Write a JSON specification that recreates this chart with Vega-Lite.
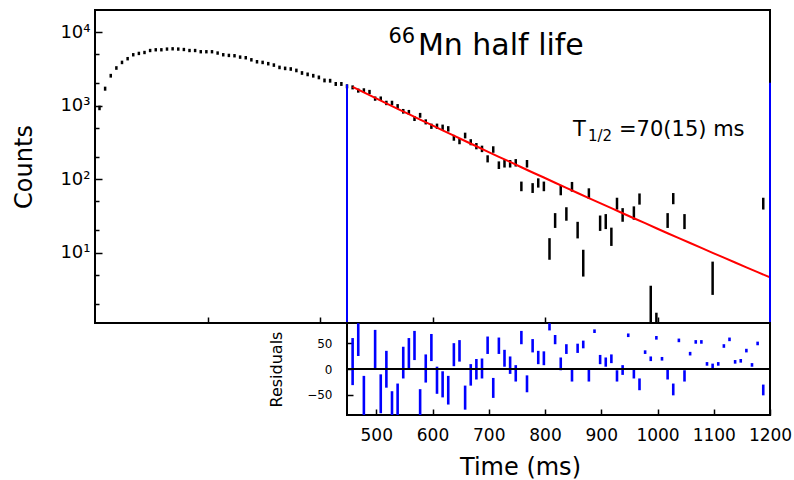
{
  "$schema": "https://vega.github.io/schema/vega-lite/v6.json",
  "padding": {"left": 11, "top": 9, "right": 0, "bottom": 12},
  "spacing": 0,
  "bounds": "flush",
  "config": {
    "font": "DejaVu Sans",
    "view": {"stroke": "black", "strokeWidth": 2},
    "axis": {"domain": false, "grid": false, "tickColor": "black", "labelColor": "black", "titleColor": "black", "titleFontWeight": "normal", "tickWidth": 1.5, "labelFont": "DejaVu Sans", "titleFont": "DejaVu Sans", "labelFlush": false}
  },
  "datasets": {
    "counts": [
      {"t": 8, "n": 930, "lo": 899.5, "hi": 960.5},
      {"t": 18, "n": 1700, "lo": 1658.8, "hi": 1741.2},
      {"t": 28, "n": 2550, "lo": 2499.5, "hi": 2600.5},
      {"t": 38, "n": 3250, "lo": 3193, "hi": 3307},
      {"t": 48, "n": 3870, "lo": 3807.8, "hi": 3932.2},
      {"t": 58, "n": 4350, "lo": 4284, "hi": 4416},
      {"t": 68, "n": 4920, "lo": 4849.9, "hi": 4990.1},
      {"t": 78, "n": 5130, "lo": 5058.4, "hi": 5201.6},
      {"t": 88, "n": 5280, "lo": 5207.3, "hi": 5352.7},
      {"t": 98, "n": 5620, "lo": 5545, "hi": 5695},
      {"t": 108, "n": 5750, "lo": 5674.2, "hi": 5825.8},
      {"t": 118, "n": 5750, "lo": 5674.2, "hi": 5825.8},
      {"t": 128, "n": 5880, "lo": 5803.3, "hi": 5956.7},
      {"t": 138, "n": 5930, "lo": 5853, "hi": 6007},
      {"t": 148, "n": 5880, "lo": 5803.3, "hi": 5956.7},
      {"t": 158, "n": 5800, "lo": 5723.8, "hi": 5876.2},
      {"t": 168, "n": 5620, "lo": 5545, "hi": 5695},
      {"t": 178, "n": 5620, "lo": 5545, "hi": 5695},
      {"t": 188, "n": 5410, "lo": 5336.4, "hi": 5483.6},
      {"t": 198, "n": 5410, "lo": 5336.4, "hi": 5483.6},
      {"t": 208, "n": 5410, "lo": 5336.4, "hi": 5483.6},
      {"t": 218, "n": 5190, "lo": 5118, "hi": 5262},
      {"t": 228, "n": 4920, "lo": 4849.9, "hi": 4990.1},
      {"t": 238, "n": 4820, "lo": 4750.6, "hi": 4889.4},
      {"t": 248, "n": 4770, "lo": 4700.9, "hi": 4839.1},
      {"t": 258, "n": 4570, "lo": 4502.4, "hi": 4637.6},
      {"t": 268, "n": 4480, "lo": 4413.1, "hi": 4546.9},
      {"t": 278, "n": 4200, "lo": 4135.2, "hi": 4264.8},
      {"t": 288, "n": 3950, "lo": 3887.2, "hi": 4012.8},
      {"t": 298, "n": 3870, "lo": 3807.8, "hi": 3932.2},
      {"t": 308, "n": 3720, "lo": 3659, "hi": 3781},
      {"t": 318, "n": 3560, "lo": 3500.3, "hi": 3619.7},
      {"t": 328, "n": 3310, "lo": 3252.5, "hi": 3367.5},
      {"t": 338, "n": 3210, "lo": 3153.3, "hi": 3266.7},
      {"t": 348, "n": 3150, "lo": 3093.9, "hi": 3206.1},
      {"t": 358, "n": 3010, "lo": 2955.1, "hi": 3064.9},
      {"t": 368, "n": 2780, "lo": 2727.3, "hi": 2832.7},
      {"t": 378, "n": 2660, "lo": 2608.4, "hi": 2711.6},
      {"t": 388, "n": 2550, "lo": 2499.5, "hi": 2600.5},
      {"t": 398, "n": 2420, "lo": 2370.8, "hi": 2469.2},
      {"t": 408, "n": 2200, "lo": 2153.1, "hi": 2246.9},
      {"t": 418, "n": 2180, "lo": 2133.3, "hi": 2226.7},
      {"t": 428, "n": 1970, "lo": 1925.6, "hi": 2014.4},
      {"t": 438, "n": 1970, "lo": 1925.6, "hi": 2014.4},
      {"t": 448, "n": 1830, "lo": 1787.2, "hi": 1872.8},
      {"t": 458, "n": 1770, "lo": 1727.9, "hi": 1812.1},
      {"t": 468, "n": 1600, "lo": 1560, "hi": 1640},
      {"t": 478, "n": 1615, "lo": 1574.8, "hi": 1655.2},
      {"t": 488, "n": 1535, "lo": 1495.8, "hi": 1574.2},
      {"t": 498, "n": 1245, "lo": 1209.7, "hi": 1280.3},
      {"t": 508, "n": 1245, "lo": 1209.7, "hi": 1280.3},
      {"t": 518, "n": 1087, "lo": 1054, "hi": 1120},
      {"t": 528, "n": 1087, "lo": 1054, "hi": 1120},
      {"t": 538, "n": 977, "lo": 945.7, "hi": 1008.3},
      {"t": 548, "n": 837, "lo": 808.1, "hi": 865.9},
      {"t": 558, "n": 811, "lo": 782.5, "hi": 839.5},
      {"t": 568, "n": 667, "lo": 641.2, "hi": 692.8},
      {"t": 578, "n": 738, "lo": 710.8, "hi": 765.2},
      {"t": 588, "n": 601, "lo": 576.5, "hi": 625.5},
      {"t": 598, "n": 524, "lo": 501.1, "hi": 546.9},
      {"t": 608, "n": 524, "lo": 501.1, "hi": 546.9},
      {"t": 618, "n": 508, "lo": 485.5, "hi": 530.5},
      {"t": 628, "n": 483, "lo": 461, "hi": 505},
      {"t": 638, "n": 365, "lo": 345.9, "hi": 384.1},
      {"t": 648, "n": 328, "lo": 309.9, "hi": 346.1},
      {"t": 658, "n": 392, "lo": 372.2, "hi": 411.8},
      {"t": 668, "n": 318, "lo": 300.2, "hi": 335.8},
      {"t": 678, "n": 281, "lo": 264.2, "hi": 297.8},
      {"t": 688, "n": 258, "lo": 241.9, "hi": 274.1},
      {"t": 698, "n": 189, "lo": 175.3, "hi": 202.7},
      {"t": 708, "n": 253, "lo": 237.1, "hi": 268.9},
      {"t": 718, "n": 155, "lo": 142.6, "hi": 167.4},
      {"t": 728, "n": 162, "lo": 149.3, "hi": 174.7},
      {"t": 738, "n": 162, "lo": 149.3, "hi": 174.7},
      {"t": 748, "n": 167, "lo": 154.1, "hi": 179.9},
      {"t": 758, "n": 80, "lo": 71.1, "hi": 88.9},
      {"t": 768, "n": 162, "lo": 149.3, "hi": 174.7},
      {"t": 778, "n": 76, "lo": 67.3, "hi": 84.7},
      {"t": 788, "n": 89, "lo": 79.6, "hi": 98.4},
      {"t": 798, "n": 80, "lo": 71.1, "hi": 88.9},
      {"t": 808, "n": 11.7, "lo": 8.3, "hi": 15.1},
      {"t": 818, "n": 27.8, "lo": 22.5, "hi": 33.1},
      {"t": 828, "n": 71, "lo": 62.6, "hi": 79.4},
      {"t": 838, "n": 34, "lo": 28.2, "hi": 39.8},
      {"t": 848, "n": 79, "lo": 70.1, "hi": 87.9},
      {"t": 858, "n": 20.7, "lo": 16.2, "hi": 25.2},
      {"t": 868, "n": 7.7, "lo": 4.9, "hi": 10.5},
      {"t": 878, "n": 64, "lo": 56, "hi": 72},
      {"t": 898, "n": 25.6, "lo": 20.5, "hi": 30.7},
      {"t": 908, "n": 26.9, "lo": 21.7, "hi": 32.1},
      {"t": 918, "n": 16.9, "lo": 12.8, "hi": 21},
      {"t": 928, "n": 46.8, "lo": 40, "hi": 53.6},
      {"t": 938, "n": 33, "lo": 27.3, "hi": 38.7},
      {"t": 958, "n": 35, "lo": 29.1, "hi": 40.9},
      {"t": 968, "n": 54, "lo": 46.7, "hi": 61.3},
      {"t": 988, "n": 2, "lo": 0.6, "hi": 3.4},
      {"t": 998, "n": 1, "lo": 0.5, "hi": 1.46},
      {"t": 1018, "n": 27.8, "lo": 22.5, "hi": 33.1},
      {"t": 1028, "n": 54.7, "lo": 47.3, "hi": 62.1},
      {"t": 1048, "n": 26.9, "lo": 21.7, "hi": 32.1},
      {"t": 1098, "n": 5, "lo": 2.76, "hi": 7.24},
      {"t": 1188, "n": 46.8, "lo": 40, "hi": 53.6}
    ],
    "fit": [
      {"t": 458, "v": 1793}, {"t": 478, "v": 1510}, {"t": 498, "v": 1272}, {"t": 518, "v": 1073},
      {"t": 538, "v": 905}, {"t": 558, "v": 764}, {"t": 578, "v": 645}, {"t": 598, "v": 545},
      {"t": 618, "v": 461}, {"t": 638, "v": 390}, {"t": 658, "v": 330}, {"t": 678, "v": 280},
      {"t": 698, "v": 237}, {"t": 718, "v": 201}, {"t": 738, "v": 171}, {"t": 758, "v": 145},
      {"t": 778, "v": 123}, {"t": 798, "v": 105}, {"t": 818, "v": 89.2}, {"t": 838, "v": 76.0},
      {"t": 858, "v": 64.7}, {"t": 878, "v": 55.2}, {"t": 898, "v": 47.0}, {"t": 918, "v": 40.2},
      {"t": 938, "v": 34.3}, {"t": 958, "v": 29.3}, {"t": 978, "v": 25.1}, {"t": 998, "v": 21.4},
      {"t": 1018, "v": 18.3}, {"t": 1038, "v": 15.7}, {"t": 1058, "v": 13.5}, {"t": 1078, "v": 11.6},
      {"t": 1098, "v": 9.92}, {"t": 1118, "v": 8.52}, {"t": 1138, "v": 7.32}, {"t": 1158, "v": 6.29},
      {"t": 1178, "v": 5.41}, {"t": 1200, "v": 4.59}
    ],
    "limits": [
      {"t": 448, "top": 1930},
      {"t": 1200, "top": 2050}
    ],
    "resid": [
      {"t": 458, "hi": 58, "lo": -29}, {"t": 468, "hi": 87, "lo": 28}, {"t": 478, "hi": -16, "lo": -95},
      {"t": 498, "hi": 74, "lo": 2}, {"t": 508, "hi": -13, "lo": -84}, {"t": 518, "hi": 33, "lo": -34},
      {"t": 528, "hi": -46, "lo": -95}, {"t": 538, "hi": -31, "lo": -88}, {"t": 548, "hi": 41, "lo": -16},
      {"t": 558, "hi": 58, "lo": 2}, {"t": 568, "hi": 72, "lo": 20}, {"t": 578, "hi": -42, "lo": -95},
      {"t": 588, "hi": 26, "lo": -24}, {"t": 598, "hi": 66, "lo": 18}, {"t": 608, "hi": 2, "lo": -46},
      {"t": 618, "hi": -7, "lo": -53}, {"t": 628, "hi": -16, "lo": -67}, {"t": 638, "hi": 48, "lo": 8},
      {"t": 648, "hi": 54, "lo": 17}, {"t": 658, "hi": -35, "lo": -77}, {"t": 668, "hi": 7, "lo": -30},
      {"t": 678, "hi": 17, "lo": -18}, {"t": 688, "hi": 18, "lo": -16}, {"t": 698, "hi": 61, "lo": 32},
      {"t": 708, "hi": -20, "lo": -54}, {"t": 718, "hi": 59, "lo": 32}, {"t": 728, "hi": 35, "lo": 7},
      {"t": 738, "hi": 22, "lo": -7}, {"t": 748, "hi": 5, "lo": -22}, {"t": 758, "hi": 72, "lo": 51},
      {"t": 768, "hi": -15, "lo": -43}, {"t": 778, "hi": 56, "lo": 35}, {"t": 788, "hi": 33, "lo": 12},
      {"t": 798, "hi": 32, "lo": 10}, {"t": 808, "hi": 87, "lo": 78}, {"t": 818, "hi": 64, "lo": 51},
      {"t": 828, "hi": 20, "lo": 0}, {"t": 838, "hi": 46, "lo": 32}, {"t": 848, "hi": -1, "lo": -22},
      {"t": 858, "hi": 47, "lo": 34}, {"t": 868, "hi": 53, "lo": 43}, {"t": 878, "hi": -3, "lo": -22},
      {"t": 888, "hi": 75, "lo": 73}, {"t": 898, "hi": 25, "lo": 12}, {"t": 908, "hi": 20, "lo": 7},
      {"t": 918, "hi": 26, "lo": 14}, {"t": 928, "hi": -5, "lo": -22}, {"t": 938, "hi": 5, "lo": -9},
      {"t": 948, "hi": 67, "lo": 65}, {"t": 958, "hi": -1, "lo": -16}, {"t": 968, "hi": -21, "lo": -39},
      {"t": 978, "hi": 34, "lo": 32}, {"t": 988, "hi": 22, "lo": 18}, {"t": 998, "hi": 62, "lo": 60},
      {"t": 1008, "hi": 21, "lo": 19}, {"t": 1018, "hi": -1, "lo": -18}, {"t": 1028, "hi": -31, "lo": -49},
      {"t": 1038, "hi": 57, "lo": 55}, {"t": 1048, "hi": -5, "lo": -22}, {"t": 1058, "hi": 31, "lo": 29},
      {"t": 1068, "hi": 54, "lo": 52}, {"t": 1078, "hi": 54, "lo": 52}, {"t": 1088, "hi": 11, "lo": 9},
      {"t": 1098, "hi": 8, "lo": 1}, {"t": 1108, "hi": 11, "lo": 9}, {"t": 1118, "hi": 46, "lo": 44},
      {"t": 1128, "hi": 59, "lo": 57}, {"t": 1138, "hi": 15, "lo": 13}, {"t": 1148, "hi": 17, "lo": 15},
      {"t": 1158, "hi": 37, "lo": 35}, {"t": 1168, "hi": 9, "lo": 7}, {"t": 1178, "hi": 51, "lo": 49},
      {"t": 1188, "hi": -33, "lo": -49}
    ]
  },
  "vconcat": [
    {
      "width": 675,
      "height": 313,
      "layer": [
        {
          "data": {"name": "counts"},
          "mark": {"type": "rule", "color": "black", "strokeWidth": 2.5, "strokeCap": "square", "clip": true},
          "encoding": {
            "x": {"field": "t", "type": "quantitative", "scale": {"domain": [0, 1200], "nice": false, "zero": false},
                  "axis": {"values": [200, 400, 600, 800, 1000], "labels": false, "tickSize": -6, "title": null}},
            "y": {"field": "lo", "type": "quantitative", "scale": {"type": "log", "domain": [1.1, 20000], "nice": false},
                  "axis": {
                    "values": [2, 5, 10, 20, 50, 100, 200, 500, 1000, 2000, 5000, 10000],
                    "labelExpr": "datum.value == 10 ? '10¹' : datum.value == 100 ? '10²' : datum.value == 1000 ? '10³' : datum.value == 10000 ? '10⁴' : ''",
                    "tickSize": {"condition": {"test": "datum.value == 10 || datum.value == 100 || datum.value == 1000 || datum.value == 10000", "value": -7}, "value": -4},
                    "labelFontSize": 18,
                    "labelPadding": 12,
                    "labelOverlap": false,
                    "title": "Counts",
                    "titleFontSize": 24,
                    "titlePadding": 23
                  }},
            "y2": {"field": "hi"}
          }
        },
        {
          "data": {"name": "fit"},
          "mark": {"type": "line", "color": "#ff0000", "strokeWidth": 2, "clip": true},
          "encoding": {
            "x": {"field": "t", "type": "quantitative"},
            "y": {"field": "v", "type": "quantitative"}
          }
        },
        {
          "data": {"name": "limits"},
          "mark": {"type": "rule", "color": "#0000ff", "strokeWidth": 2},
          "encoding": {
            "x": {"field": "t", "type": "quantitative"},
            "y": {"field": "top", "type": "quantitative"},
            "y2": {"datum": 1.1}
          }
        },
        {
          "data": {"values": [{}]},
          "mark": {"type": "text", "text": "66", "fontSize": 21, "align": "left", "baseline": "alphabetic", "color": "black"},
          "encoding": {"x": {"datum": 521.8}, "y": {"datum": 7160}}
        },
        {
          "data": {"values": [{}]},
          "mark": {"type": "text", "text": "Mn half life", "fontSize": 30, "align": "left", "baseline": "alphabetic", "color": "black"},
          "encoding": {"x": {"datum": 574}, "y": {"datum": 4920}}
        },
        {
          "data": {"values": [{}]},
          "mark": {"type": "text", "text": "T", "fontSize": 21, "align": "left", "baseline": "alphabetic", "color": "black"},
          "encoding": {"x": {"datum": 849.8}, "y": {"datum": 383}}
        },
        {
          "data": {"values": [{}]},
          "mark": {"type": "text", "text": "1/2", "fontSize": 15, "align": "left", "baseline": "alphabetic", "color": "black"},
          "encoding": {"x": {"datum": 876.4}, "y": {"datum": 328}}
        },
        {
          "data": {"values": [{}]},
          "mark": {"type": "text", "text": "=70(15) ms", "fontSize": 21, "align": "left", "baseline": "alphabetic", "color": "black"},
          "encoding": {"x": {"datum": 931.6}, "y": {"datum": 383}}
        }
      ]
    },
    {
      "spacing": 0,
      "bounds": "flush",
      "hconcat": [
        {
          "width": 252,
          "height": 92,
          "view": {"stroke": null},
          "data": {"values": [{}]},
          "mark": {"type": "text", "text": ""}
        },
        {
          "width": 423,
          "height": 92,
          "layer": [
            {
              "data": {"name": "resid"},
              "mark": {"type": "rule", "color": "#0000ff", "strokeWidth": 2.6, "strokeCap": "square", "clip": true},
              "encoding": {
                "x": {"field": "t", "type": "quantitative", "scale": {"domain": [448, 1200], "nice": false, "zero": false},
                      "axis": {"values": [500, 600, 700, 800, 900, 1000, 1100, 1200], "format": "d", "labelOverlap": false, "labelFlush": false, "tickSize": -6, "labelPadding": 18, "labelFontSize": 17,
                               "title": "Time (ms)", "titleFontSize": 24, "titleX": 173, "titleY": 59, "titleBaseline": "alphabetic"}},
                "y": {"field": "lo", "type": "quantitative", "scale": {"domain": [-90, 90], "nice": false},
                      "axis": {"values": [-50, 0, 50], "tickSize": -6, "labelPadding": 21, "labelFontSize": 12,
                               "title": "Residuals", "titleFontSize": 16, "titlePadding": 22}},
                "y2": {"field": "hi"}
              }
            },
            {
              "data": {"values": [{}]},
              "mark": {"type": "rule", "color": "black", "strokeWidth": 2},
              "encoding": {"y": {"datum": 0}}
            }
          ]
        }
      ]
    }
  ]
}
